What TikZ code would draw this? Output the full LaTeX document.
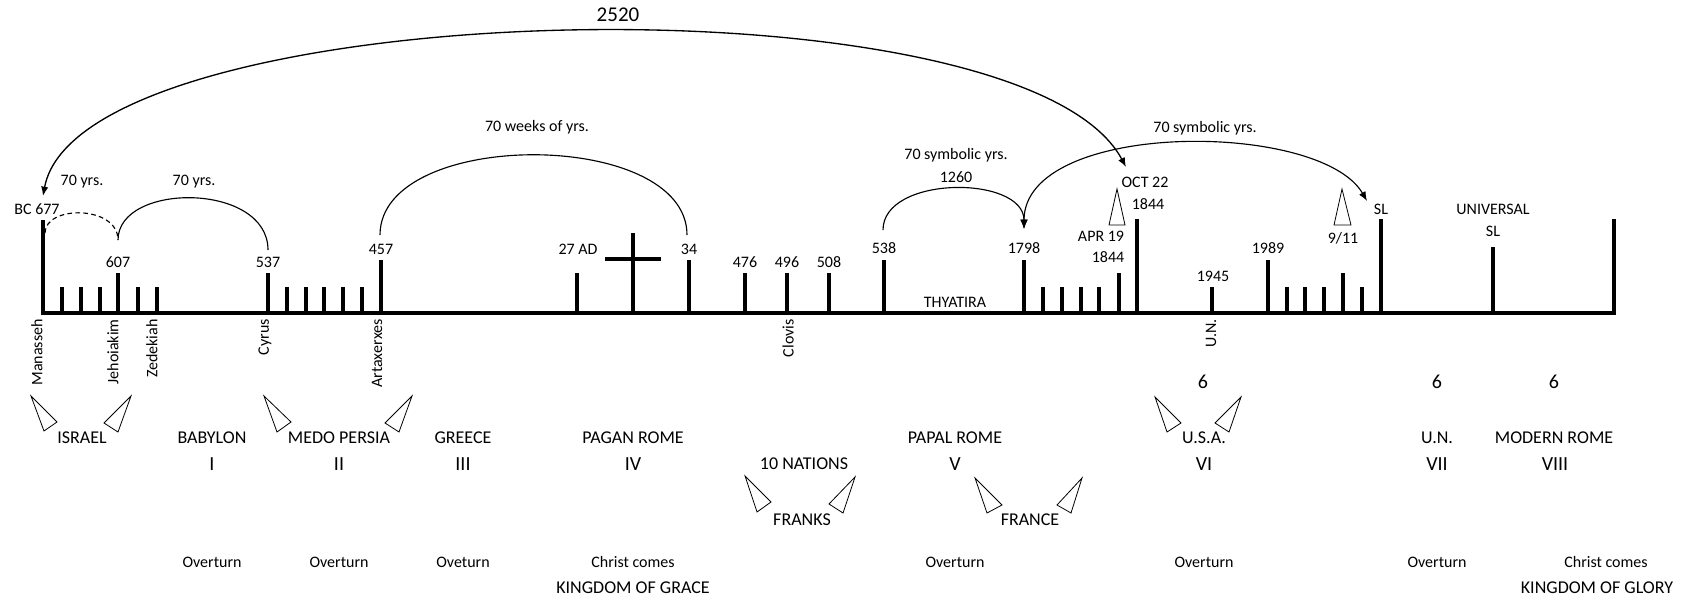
\documentclass[tikz,border=0pt]{standalone}
\usepackage{fontspec}
\setmainfont{Carlito}
\usetikzlibrary{arrows.meta}
\begin{document}
\begin{tikzpicture}[x=0.75pt,y=-0.75pt,
  lbl/.style={inner sep=0pt, font=\fontsize{12}{14}\selectfont},
  nation/.style={inner sep=0pt, font=\fontsize{13.5}{16}\selectfont},
  roman/.style={inner sep=0pt, font=\fontsize{15}{18}\selectfont},
  bignum/.style={inner sep=0pt, font=\fontsize{15.75}{18}\selectfont},
  rot/.style={lbl, rotate=90, anchor=east},
  tick/.style={line width=3pt},
  arc/.style={line width=0.85pt},
  tri/.style={line width=0.6pt, line join=miter},
  tip/.style={-{Latex[length=7pt,width=5.5pt]}},
  tips/.style={{Latex[length=7pt,width=5.5pt]}-{Latex[length=7pt,width=5.5pt]}}
]
\fill[white] (0,0) rectangle (1701,600);
\useasboundingbox (0,0) rectangle (1701,600);

% timeline
\draw[tick, line join=miter] (43,220) -- (43,313) -- (1614,313) -- (1614,219);
\foreach \x/\t in {62/287, 81/287, 100/287, 118/273, 138/287, 157/287,
  268/273, 287/287, 306/287, 324/287, 343/287, 362/287, 381/260,
  577/273, 689/260, 745/273, 787/273, 829/273, 884/260, 1024/260,
  1043/287, 1062/287, 1081/287, 1099/287, 1119/273, 1137/219,
  1212/287, 1268/260, 1287/287, 1305/287, 1324/287, 1343/273, 1362/287,
  1381/219, 1493/247}
  \draw[tick] (\x,313) -- (\x,\t);
% cross
\draw[tick] (633,313) -- (633,233);
\draw[tick] (605,259) -- (661,259);

% arc end points
\coordinate (aBC) at (43,196);
\coordinate (a677) at (45,233);
\coordinate (a607) at (118,240);
\coordinate (a537) at (268,250);
\coordinate (a457) at (380,235);
\coordinate (a34) at (687,235);
\coordinate (a538) at (883,230);
\coordinate (a1798) at (1024,229);
\coordinate (aOCT) at (1126,167);
\coordinate (aSL) at (1367,201);

% arcs
\draw[arc, line width=1pt, tips] (aBC) .. controls (80,-5) and (1020,-30) .. (aOCT);
\draw[arc, dashed, dash pattern=on 3.5pt off 2.5pt] (a677) .. controls (45,205) and (118,205) .. (a607);
\draw[arc] (a607) .. controls (118,182) and (268,182) .. (a537);
\draw[arc] (a457) .. controls (380,128) and (687,128) .. (a34);
\draw[arc, tip] (a538) .. controls (883,175) and (1024,175) .. (a1798);
\draw[arc, tips] (a1798) .. controls (1024,120) and (1320,120) .. (aSL);

% top labels
\node[bignum] (n2520) at (618,15) {2520};
\node[lbl] (n70a) at (82,182) {70 yrs.};
\node[lbl] (n70b) at (194,182) {70 yrs.};
\node[lbl] (n70w) at (537,127) {70 weeks of yrs.};
\node[lbl] (n70s) at (956,155) {70 symbolic yrs.};
\node[lbl] (n1260) at (956,177) {1260};
\node[lbl] (n70t) at (1205,128) {70 symbolic yrs.};

% tick labels
\node[lbl] (l677) at (37,209) {BC 677};
\node[lbl] (l607) at (118,262) {607};
\node[lbl] (l537) at (268,262) {537};
\node[lbl] (l457) at (381,249) {457};
\node[lbl] (l27) at (578,249) {27 AD};
\node[lbl] (l34) at (689,249) {34};
\node[lbl] (l476) at (745,262) {476};
\node[lbl] (l496) at (787,262) {496};
\node[lbl] (l508) at (829,262) {508};
\node[lbl] (l538) at (884,248) {538};
\node[lbl] (l1798) at (1024,248) {1798};
\node[lbl] (lthy) at (955,302) {THYATIRA};
\node[lbl] (lapr) at (1101,236) {APR 19};
\node[lbl] (l1844a) at (1108,257) {1844};
\node[lbl] (loct) at (1145,182) {OCT 22};
\node[lbl] (l1844b) at (1148,204) {1844};
\node[lbl] (l1945) at (1213,276) {1945};
\node[lbl] (l1989) at (1268,248) {1989};
\node[lbl] (l911) at (1343,238) {9/11};
\node[lbl] (lsl) at (1381,209) {SL};
\node[lbl] (luni) at (1493,209) {UNIVERSAL};
\node[lbl] (lsl2) at (1493,231) {SL};

% rotated names
\node[rot] (rman) at (37,319) {Manasseh};
\node[rot] (rjeh) at (113,319) {Jehoiakim};
\node[rot] (rzed) at (152,319) {Zedekiah};
\node[rot] (rcyr) at (265,319) {Cyrus};
\node[rot] (rart) at (377,319) {Artaxerxes};
\node[rot] (rclo) at (788,319) {Clovis};
\node[rot] (run) at (1211,319) {U.N.};

% triangles
\draw[tri] (31,396) -- (57,422) -- (44,431) -- cycle;
\draw[tri] (131,396) -- (104,423) -- (118,432) -- cycle;
\draw[tri] (264,396) -- (291,422) -- (277,432) -- cycle;
\draw[tri] (412,396) -- (385,423) -- (399,432) -- cycle;
\draw[tri] (745,476) -- (771,502) -- (757,512) -- cycle;
\draw[tri] (855,477) -- (829,504) -- (843,513) -- cycle;
\draw[tri] (975,478) -- (1002,505) -- (987,513) -- cycle;
\draw[tri] (1082,478) -- (1057,505) -- (1071,513) -- cycle;
\draw[tri] (1155,397) -- (1181,423) -- (1167,432) -- cycle;
\draw[tri] (1241,397) -- (1215,423) -- (1229,432) -- cycle;
\draw[tri] (1117,189) -- (1109,225) -- (1125,225) -- cycle;
\draw[tri] (1342,189) -- (1334,225) -- (1351,225) -- cycle;

% nations
\node[nation] (israel) at (82,438) {ISRAEL};
\node[nation] (babylon) at (212,438) {BABYLON};
\node[nation] (medo) at (339,438) {MEDO PERSIA};
\node[nation] (greece) at (463,438) {GREECE};
\node[nation] (pagan) at (633,438) {PAGAN ROME};
\node[nation] (papal) at (955,438) {PAPAL ROME};
\node[nation] (usa) at (1204,438) {U.S.A.};
\node[nation] (un) at (1437,438) {U.N.};
\node[nation] (modern) at (1554,438) {MODERN ROME};
\node[nation] (tenn) at (804,464) {10 NATIONS};
\node[nation] (franks) at (802,520) {FRANKS};
\node[nation] (france) at (1030,520) {FRANCE};

% numerals
\node[roman] (rI) at (212,464) {I};
\node[roman] (rII) at (339,464) {II};
\node[roman] (rIII) at (463,464) {III};
\node[roman] (rIV) at (633,464) {IV};
\node[roman] (rV) at (955,464) {V};
\node[roman] (rVI) at (1204,464) {VI};
\node[roman] (rVII) at (1437,464) {VII};
\node[roman] (rVIII) at (1555,464) {VIII};
\node[roman] (s1) at (1203,382) {6};
\node[roman] (s2) at (1437,382) {6};
\node[roman] (s3) at (1554,382) {6};

% bottom
\node[lbl] (o1) at (212,562) {Overturn};
\node[lbl] (o2) at (339,562) {Overturn};
\node[lbl] (o3) at (463,562) {Oveturn};
\node[lbl] (c1) at (633,562) {Christ comes};
\node[nation] (k1) at (633,588) {KINGDOM OF GRACE};
\node[lbl] (o4) at (955,562) {Overturn};
\node[lbl] (o5) at (1204,562) {Overturn};
\node[lbl] (o6) at (1437,562) {Overturn};
\node[lbl] (c2) at (1606,562) {Christ comes};
\node[nation] (k2) at (1597,588) {KINGDOM OF GLORY};
\end{tikzpicture}
\end{document}
